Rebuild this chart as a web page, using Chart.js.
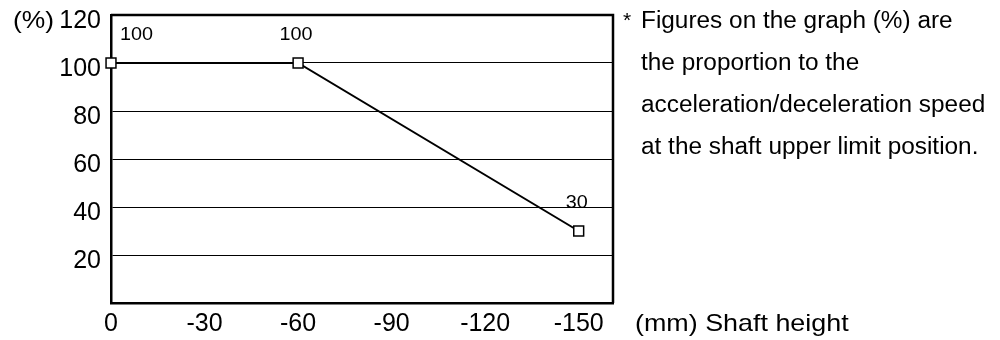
<!DOCTYPE html>
<html>
<head>
<meta charset="utf-8">
<script src="https://cdn.jsdelivr.net/npm/chart.js@4/dist/chart.umd.min.js"></script>
<style>
  body { margin: 0; background: #fff; }
  #wrap { width: 1000px; height: 340px; }
</style>
</head>
<body>
<div id="wrap"><canvas id="speedChart" width="1000" height="340"></canvas></div>
<script>
const shaftHeight = [0, -60, -150];
const speedPct = [100, 100, 30];
const xTicks = [0, -30, -60, -90, -120, -150];
const yTicks = [20, 40, 60, 80, 100, 120];
const yUnit = "(%)";
const xTitle = "(mm) Shaft height";
const noteLines = [
  "Figures on the graph (%) are",
  "the proportion to the",
  "acceleration/deceleration speed",
  "at the shaft upper limit position."
];

const FONT = "'Liberation Sans', Arial, sans-serif";

// text drawn a little wider, like the source picture
function wideText(ctx, text, x, y, sx) {
  ctx.save();
  ctx.translate(x, y);
  ctx.scale(sx, 1);
  ctx.fillText(text, 0, 0);
  ctx.restore();
}

// frame, value labels and side texts
const extras = {
  id: "extras",
  afterDraw(chart) {
    const { ctx, chartArea: a } = chart;
    ctx.save();
    ctx.strokeStyle = "#000";
    ctx.lineWidth = 2.5;
    ctx.beginPath();
    ctx.moveTo(a.left, a.top);
    ctx.lineTo(a.right, a.top);
    ctx.lineTo(a.right, a.bottom);
    ctx.stroke();

    ctx.fillStyle = "#000";
    ctx.textBaseline = "middle";

    // value labels above the points
    ctx.font = "18px " + FONT;
    const pts = chart.getDatasetMeta(0).data;
    pts.forEach((p, i) => {
      ctx.textAlign = i === 0 ? "left" : "center";
      const x = i === 0 ? p.x + 9 : p.x - 2;
      wideText(ctx, String(speedPct[i]), x, p.y - 28, 1.1);
    });

    // axis unit and title
    ctx.textAlign = "left";
    ctx.font = "24px " + FONT;
    wideText(ctx, yUnit, 13, a.top + 6, 1.1);
    wideText(ctx, xTitle, 635, a.bottom + 21, 1.12);

    // note on the right
    ctx.font = "21px " + FONT;
    ctx.fillText("*", 623, a.top + 6);
    ctx.font = "23px " + FONT;
    noteLines.forEach((t, i) => wideText(ctx, t, 641, 22 + i * 42, 1.06));
    ctx.restore();
  }
};

new Chart(document.getElementById("speedChart"), {
  type: "line",
  data: {
    datasets: [{
      data: shaftHeight.map((x, i) => ({ x: x, y: speedPct[i] })),
      borderColor: "#000",
      borderWidth: 2,
      pointStyle: "rect",
      pointRadius: 7,
      pointBorderWidth: 1.5,
      pointBackgroundColor: "#fff",
      pointBorderColor: "#000",
      clip: false
    }]
  },
  options: {
    responsive: false,
    animation: false,
    devicePixelRatio: 1,
    layout: { padding: { top: 15, right: 387, left: 0, bottom: 0 } },
    plugins: { legend: { display: false }, tooltip: { enabled: false } },
    scales: {
      x: {
        type: "linear",
        min: -161,
        max: 0,
        reverse: true,
        afterBuildTicks: s => { s.ticks = xTicks.map(v => ({ value: v })); },
        afterFit: s => { s.height = 37; s.paddingLeft = 0; s.paddingRight = 0; },
        grid: { display: false, drawTicks: false },
        border: { display: true, color: "#000", width: 2.5 },
        ticks: { color: "#000", font: { family: FONT, size: 25 }, padding: 6, maxRotation: 0 }
      },
      y: {
        min: 0,
        max: 120,
        afterBuildTicks: s => { s.ticks = yTicks.map(v => ({ value: v })); },
        afterFit: s => { s.width = 111; s.paddingTop = 0; s.paddingBottom = 0; },
        grid: { color: "#000", lineWidth: 1, drawTicks: false },
        border: { display: true, color: "#000", width: 2.5 },
        ticks: { color: "#000", font: { family: FONT, size: 25 }, padding: 10, labelOffset: 6 }
      }
    }
  },
  plugins: [extras]
});
</script>
</body>
</html>
